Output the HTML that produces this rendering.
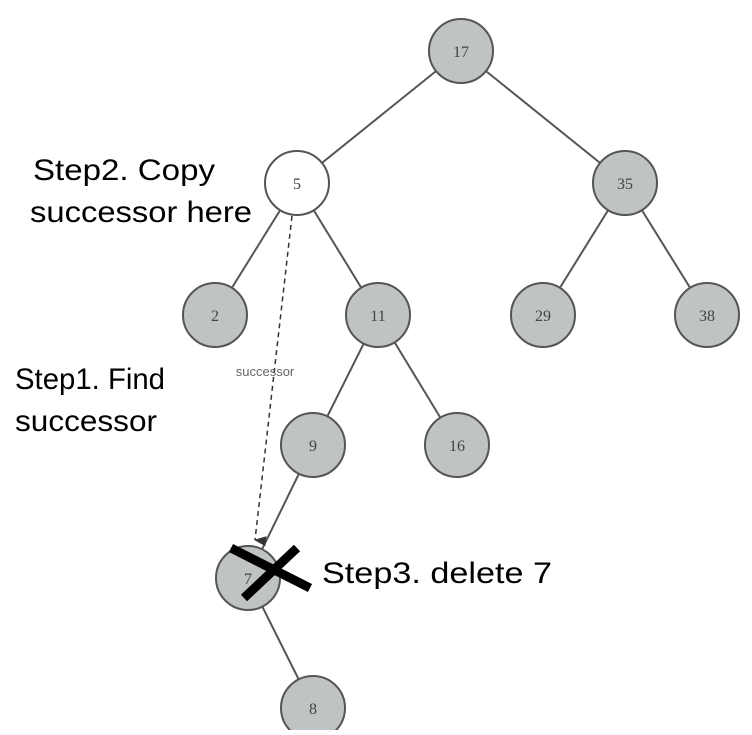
<!DOCTYPE html>
<html><head><style>
body{margin:0;background:#fff;width:752px;height:730px;overflow:hidden}
text{font-family:"Liberation Serif",serif}
.l{font-family:"Liberation Sans","Noto Sans CJK KR",sans-serif;font-size:30px;fill:#000}
</style></head><body>
<svg width="752" height="730" xmlns="http://www.w3.org/2000/svg">
<defs><marker id="a" markerWidth="10" markerHeight="12" refX="5" refY="11" orient="auto" markerUnits="userSpaceOnUse"><path d="M0,0 L10,0 L5,12 z" fill="#333"/></marker></defs>
<g stroke="#555" stroke-width="2">
<line x1="461" y1="51" x2="297" y2="183"/><line x1="461" y1="51" x2="625" y2="183"/>
<line x1="297" y1="183" x2="215" y2="315"/><line x1="297" y1="183" x2="378" y2="315"/>
<line x1="625" y1="183" x2="543" y2="315"/><line x1="625" y1="183" x2="707" y2="315"/>
<line x1="378" y1="315" x2="313" y2="445"/><line x1="378" y1="315" x2="457" y2="445"/>
<line x1="313" y1="445" x2="248" y2="578"/><line x1="248" y1="578" x2="313" y2="708"/>
</g>
<line x1="292" y1="216" x2="255" y2="540" stroke="#333" stroke-width="1.5" stroke-dasharray="5,4" marker-end="url(#a)"/>
<g stroke="#555" stroke-width="2" fill="#c0c3c4">
<circle cx="461" cy="51" r="32"/>
<circle cx="297" cy="183" r="32" fill="#fff"/>
<circle cx="625" cy="183" r="32"/>
<circle cx="215" cy="315" r="32"/><circle cx="378" cy="315" r="32"/>
<circle cx="543" cy="315" r="32"/><circle cx="707" cy="315" r="32"/>
<circle cx="313" cy="445" r="32"/><circle cx="457" cy="445" r="32"/>
<circle cx="248" cy="578" r="32"/><circle cx="313" cy="708" r="32"/>
</g>
<g font-size="16" fill="#444" text-anchor="middle">
<text x="461" y="57">17</text><text x="297" y="189">5</text><text x="625" y="189">35</text>
<text x="215" y="321">2</text><text x="378" y="321">11</text><text x="543" y="321">29</text><text x="707" y="321">38</text>
<text x="313" y="451">9</text><text x="457" y="451">16</text><text x="248" y="584">7</text><text x="313" y="714">8</text>
</g>
<text x="265" y="376" font-size="13" fill="#666" text-anchor="middle" style="font-family:'Liberation Sans',sans-serif">successor</text>
<g stroke="#000" stroke-width="9">
<line x1="231" y1="548" x2="310" y2="588"/><line x1="244" y1="598" x2="297" y2="548"/>
</g>
<text class="l" x="33" y="180" textLength="182" lengthAdjust="spacingAndGlyphs">Step2. Copy</text>
<text class="l" x="30" y="222" textLength="222" lengthAdjust="spacingAndGlyphs">successor here</text>
<text class="l" x="15" y="389" textLength="150" lengthAdjust="spacingAndGlyphs">Step1. Find</text>
<text class="l" x="15" y="431" textLength="142" lengthAdjust="spacingAndGlyphs">successor</text>
<text class="l" x="322" y="583" textLength="230" lengthAdjust="spacingAndGlyphs">Step3. delete 7</text>
</svg>
</body></html>
